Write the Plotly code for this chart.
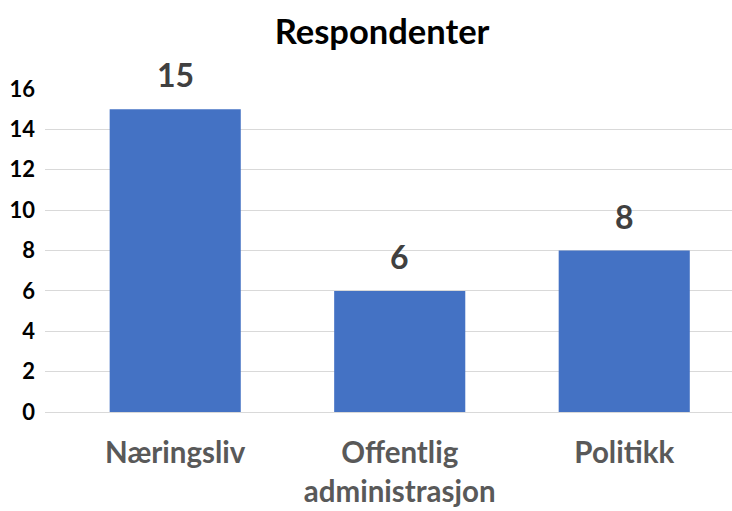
import plotly.graph_objects as go

categories = ["Næringsliv", "Offentlig<br>administrasjon", "Politikk"]
values = [15, 6, 8]
y_ticks = [0, 2, 4, 6, 8, 10, 12, 14, 16]

FONT = "Lato, Carlito, Calibri, sans-serif"

fig = go.Figure()
fig.add_trace(go.Bar(
    x=categories, y=values,
    marker=dict(color="#4472C4", line=dict(width=0)),
    width=0.584,
    hoverinfo="skip",
))
for c, v in zip(categories, values):
    fig.add_annotation(x=c, y=v, text=str(v), showarrow=False,
                       yanchor="bottom", yshift=13,
                       font=dict(family=FONT, size=32, color="#404040", weight="bold"))

fig.update_layout(
    width=732, height=511,
    margin=dict(l=45, r=0, t=89, b=99, autoexpand=False),
    paper_bgcolor="white", plot_bgcolor="white",
    showlegend=False,
    title=dict(text="Respondenter", x=0.522, xanchor="center",
               y=0.937, yanchor="middle",
               font=dict(family=FONT, size=34.5, color="black", weight="bold")),
    font=dict(family=FONT),
)
fig.update_xaxes(
    range=[-0.58, 2.48], showgrid=False, zeroline=False,
    showline=True, linecolor="#D9D9D9", linewidth=1,
    ticks="", ticklabelstandoff=15, automargin=False,
    tickfont=dict(family=FONT, size=29.5, color="#595959", weight="bold"),
)
fig.update_yaxes(
    range=[0, 16], tickvals=y_ticks, showgrid=True, gridcolor="#D9D9D9",
    gridwidth=1, zeroline=False, showline=False, ticks="",
    ticklabelstandoff=9, automargin=False,
    tickfont=dict(family=FONT, size=22, color="black", weight="bold"),
)
fig.write_html("out.html", post_script="document.body.style.margin='0';",
               config={"displayModeBar": False})
